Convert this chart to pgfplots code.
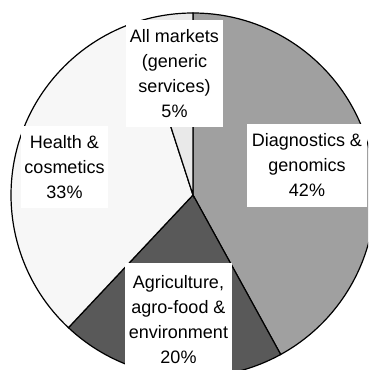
\documentclass[border=0pt]{standalone}
\usepackage{fontspec}
\setmainfont{Liberation Sans}
\usepackage{pgfplots}
\pgfplotsset{compat=1.18}

\definecolor{diag}{HTML}{A0A0A0}
\definecolor{agri}{HTML}{595959}
\definecolor{health}{HTML}{F7F7F7}
\definecolor{allm}{HTML}{E9E9E9}

\tikzset{lbl/.style={fill=white, inner sep=0pt, align=center,
    font=\fontsize{18}{25}\selectfont}}

\begin{document}
\begin{tikzpicture}
    \begin{axis}[
        scale only axis,
        width=368pt, height=370pt,
        xmin=0, xmax=368,
        ymin=0, ymax=370,
        axis lines=none,
        clip=true
    ]
    % shares (percent), clockwise from 12 o'clock
    \def\cx{193}\def\cy{175}
    \fill[diag, draw=black, line width=1.2pt] (axis cs:\cx,\cy) -- ++(90:182pt)
        arc[start angle=90, end angle={90-42*3.6}, radius=182pt] -- cycle;
    \fill[agri, draw=black, line width=1.2pt] (axis cs:\cx,\cy) -- ++({90-42*3.6}:182pt)
        arc[start angle={90-42*3.6}, end angle={90-62*3.6}, radius=182pt] -- cycle;
    \fill[health, draw=black, line width=1.2pt] (axis cs:\cx,\cy) -- ++({90-62*3.6}:182pt)
        arc[start angle={90-62*3.6}, end angle={90-95*3.6}, radius=182pt] -- cycle;
    \fill[allm, draw=black, line width=1.2pt] (axis cs:\cx,\cy) -- ++({90-95*3.6}:182pt)
        arc[start angle={90-95*3.6}, end angle={90-100*3.6}, radius=182pt] -- cycle;

    \node[lbl, minimum width=97pt, minimum height=107pt] at (axis cs:174.5,296.5)
        {All markets\\(generic\\services)\\5\%};
    \node[lbl, minimum width=120pt, minimum height=83pt] at (axis cs:307,204.5)
        {Diagnostics \&\\genomics\\42\%};
    \node[lbl, minimum width=87pt, minimum height=82pt] at (axis cs:64.5,203)
        {Health \&\\cosmetics\\33\%};
    \node[lbl, minimum width=107pt, minimum height=113pt] at (axis cs:178.5,50.5)
        {Agriculture,\\agro-food \&\\environment\\20\%};
    \end{axis}
    \pgfresetboundingbox
    \useasboundingbox (0,0) rectangle (368pt,370pt);
\end{tikzpicture}
\end{document}
